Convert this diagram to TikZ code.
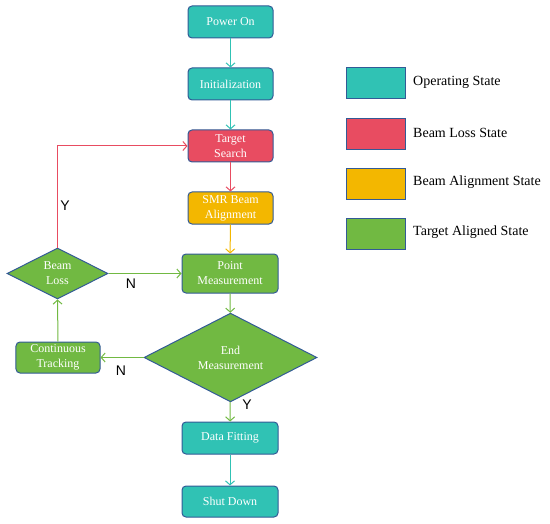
\documentclass[tikz,border=0pt]{standalone}
\usepackage{fontspec}
\setmainfont{Liberation Serif}
\newfontfamily\labelfont{Liberation Sans}
\usetikzlibrary{shapes.geometric,arrows.meta}
\definecolor{opteal}{RGB}{48,194,180}
\definecolor{lossred}{RGB}{232,76,97}
\definecolor{alignyel}{RGB}{243,183,0}
\definecolor{aimgreen}{RGB}{113,185,66}
\definecolor{bordblue}{RGB}{50,90,150}
\begin{document}
\begin{tikzpicture}[x=1bp,y=-1bp,
  box/.style={draw=bordblue, line width=1bp, rounded corners=4bp, text=white,
    font=\fontsize{12bp}{15bp}\selectfont, align=center,
    minimum width=85bp, minimum height=32bp, inner sep=1bp},
  dia/.style={diamond, draw=bordblue, line width=1bp, text=white, fill=aimgreen,
    font=\fontsize{12bp}{15bp}\selectfont, align=center, inner sep=0bp},
  arr/.style={-{Straight Barb[length=4bp,width=9bp]}, line width=1bp},
  lbl/.style={font=\labelfont\fontsize{14bp}{16bp}\selectfont, text=black},
  legbox/.style={draw=bordblue, line width=1bp, minimum width=59bp, minimum height=31bp, inner sep=0bp},
  legtext/.style={anchor=west, font=\fontsize{14bp}{16bp}\selectfont, inner sep=0bp}
]
\useasboundingbox (0,0) rectangle (550,524);

\node[box, fill=opteal] (pon) at (230.5,22) {Power On};
\node[box, fill=opteal] (init) at (230.5,84) {Initialization};
\node[box, fill=lossred] (ts) at (230.5,146) {Target\\Search};
\node[box, fill=alignyel] (smr) at (230.5,208) {SMR Beam\\Alignment};
\node[box, fill=aimgreen, minimum width=96bp, minimum height=39bp] (pm) at (230,273.5) {Point\\Measurement};
\node[dia, minimum width=173bp, minimum height=67bp] (em) at (230.5,357.5) {End\\Measurement};
\node[box, fill=aimgreen, minimum width=84bp, minimum height=31bp] (ct) at (58,357.5) {Continuous\\Tracking};
\node[dia, minimum width=101bp, minimum height=49bp] (bl) at (57.5,273.5) {Beam\\Loss};
\node[box, fill=opteal, minimum width=96bp] (df) at (230,438) {Data Fitting};
\node[box, fill=opteal, minimum width=96bp, minimum height=31bp] (sd) at (230,501.5) {Shut Down};

\draw[arr, opteal] (pon) -- (init);
\draw[arr, opteal] (init) -- (ts);
\draw[arr, lossred] (ts) -- (smr);
\draw[arr, alignyel] (smr) -- (pm);
\draw[arr, aimgreen] (pm) -- (em);
\draw[arr, aimgreen] (em) -- (df);
\draw[arr, opteal] (df) -- (sd);
\draw[arr, aimgreen] (em.west) -- (ct.east);
\draw[arr, aimgreen] (ct.north) -- (bl.south);
\draw[arr, aimgreen] (bl.east) -- (pm.west);
\draw[arr, lossred] (bl.north) |- (ts.west);

\node[lbl] (ly1) at (65,206) {Y};
\node[lbl] (ln1) at (131,284) {N};
\node[lbl] (ln2) at (121,371) {N};
\node[lbl] (ly2) at (247,405) {Y};

\node[legbox, fill=opteal] (l1) at (375.5,83.5) {};
\node[legbox, fill=lossred] (l2) at (375.5,134) {};
\node[legbox, fill=alignyel] (l3) at (375.5,184) {};
\node[legbox, fill=aimgreen] (l4) at (375.5,233.5) {};
\node[legtext] (t1) at (413,82) {Operating State};
\node[legtext] (t2) at (413,132.5) {Beam Loss State};
\node[legtext] (t3) at (413,182.5) {Beam Alignment State};
\node[legtext] (t4) at (413,232) {Target Aligned State};
\end{tikzpicture}
\end{document}
